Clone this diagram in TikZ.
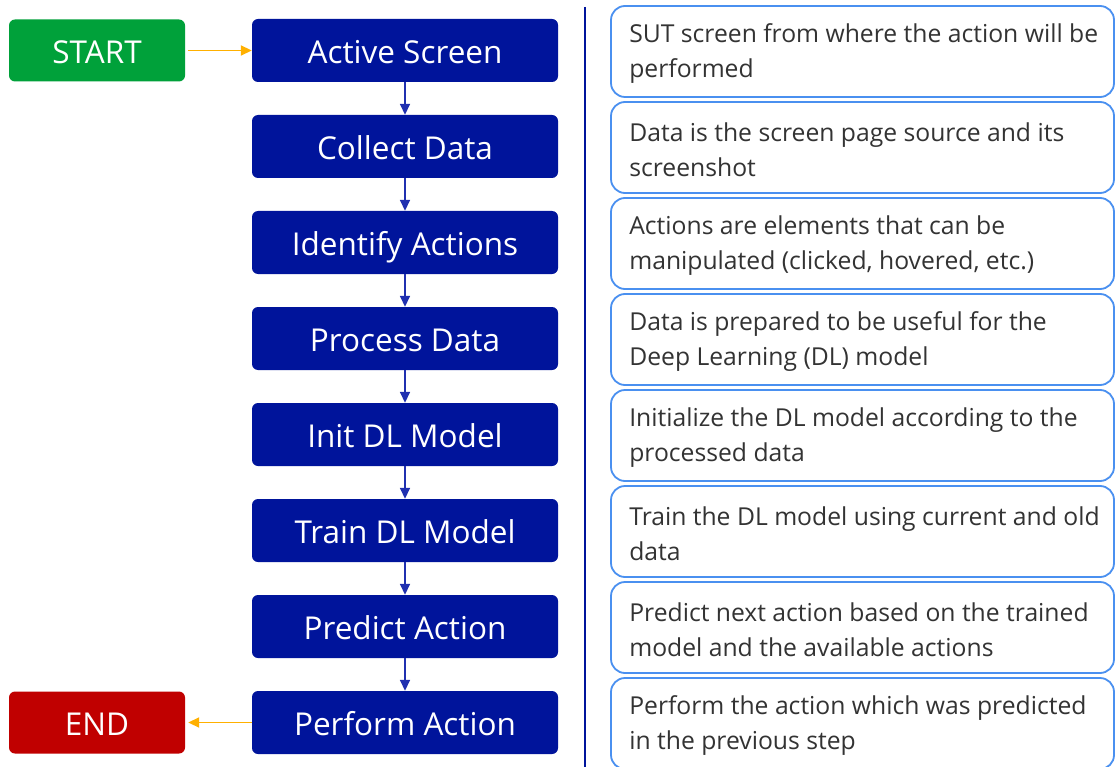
\documentclass[tikz,border=0pt]{standalone}
\usepackage{fontspec}
\setmainfont{Open Sans}
\usetikzlibrary{arrows.meta}
\definecolor{stepblue}{RGB}{0,20,155}
\definecolor{startgreen}{RGB}{0,161,58}
\definecolor{endred}{RGB}{192,0,0}
\definecolor{arrblue}{RGB}{32,48,176}
\definecolor{orangearr}{RGB}{255,176,0}
\definecolor{descborder}{RGB}{74,144,240}
\definecolor{desctext}{RGB}{51,51,51}
\tikzset{
  stepbox/.style={rectangle, rounded corners=6pt, fill=stepblue, text=white,
    minimum width=306pt, minimum height=63pt, inner sep=0pt,
    text height=26.5pt, text depth=0pt,
    font=\fontsize{31.5}{38}\selectfont},
  termbox/.style={rectangle, rounded corners=6pt, text=white,
    minimum width=176pt, minimum height=62pt, inner sep=0pt,
    text height=26.5pt, text depth=0pt,
    font=\fontsize{31.5}{38}\selectfont},
  descbox/.style={rectangle, rounded corners=14pt, draw=descborder, line width=1.8pt,
    fill=white, minimum width=503pt, minimum height=91pt, inner sep=0pt},
  desctxt/.style={anchor=west, text=desctext, align=left, inner sep=0pt,
    font=\fontsize{24.7}{35.5}\selectfont},
  downarrow/.style={draw=arrblue, line width=1.6pt, -{Triangle[width=10pt,length=11pt]}},
  sidearrow/.style={draw=orangearr, line width=1.8pt, -{Triangle[width=10pt,length=11pt]}}
}
\begin{document}
\begin{tikzpicture}[x=1pt,y=-1pt]
\useasboundingbox[fill=white] (0,0) rectangle (1115,767);
% left column
\node[stepbox] (s1) at (405,50.5) {Active Screen};
\node[stepbox] (s2) at (405,146.5) {Collect Data};
\node[stepbox] (s3) at (405,242.5) {Identify Actions};
\node[stepbox] (s4) at (405,338.5) {Process Data};
\node[stepbox] (s5) at (405,434.5) {Init DL Model};
\node[stepbox] (s6) at (405,530.5) {Train DL Model};
\node[stepbox] (s7) at (405,626.5) {Predict Action};
\node[stepbox] (s8) at (405,722.5) {Perform Action};
\node[termbox, fill=startgreen] (start) at (97,50.5) {START};
\node[termbox, fill=endred] (end) at (97,722.5) {END};
\foreach \a/\b in {s1/s2,s2/s3,s3/s4,s4/s5,s5/s6,s6/s7,s7/s8}
  \draw[downarrow] (\a.south) -- (\b.north);
\draw[sidearrow] ([xshift=3pt]start.east) -- (s1.west);
\draw[sidearrow] (s8.west) -- ([xshift=3pt]end.east);
% divider
\coordinate (dtop) at (585,7);
\coordinate (dbot) at (585,767);
\draw[stepblue, line width=1.8pt] (dtop) -- (dbot);
% descriptions
\foreach \i/\y in {1/51.5,2/147.5,3/243.5,4/339.5,5/435.5,6/531.5,7/627.5,8/723.5}
  \node[descbox] (d\i) at (862.5,\y) {};
\node[desctxt] (t1) at ([xshift=19pt,yshift=-2pt]d1.west) {SUT screen from where the action will be\\performed};
\node[desctxt] (t2) at ([xshift=19pt,yshift=-2pt]d2.west) {Data is the screen page source and its\\screenshot};
\node[desctxt] (t3) at ([xshift=19pt,yshift=-2pt]d3.west) {Actions are elements that can be\\manipulated (clicked, hovered, etc.)};
\node[desctxt] (t4) at ([xshift=19pt,yshift=-2pt]d4.west) {Data is prepared to be useful for the\\Deep Learning (DL) model};
\node[desctxt] (t5) at ([xshift=19pt,yshift=-2pt]d5.west) {Initialize the DL model according to the\\processed data};
\node[desctxt] (t6) at ([xshift=19pt,yshift=-2pt]d6.west) {Train the DL model using current and old\\data};
\node[desctxt] (t7) at ([xshift=19pt,yshift=-2pt]d7.west) {Predict next action based on the trained\\model and the available actions};
\node[desctxt] (t8) at ([xshift=19pt,yshift=-2pt]d8.west) {Perform the action which was predicted\\in the previous step};
\end{tikzpicture}
\end{document}
